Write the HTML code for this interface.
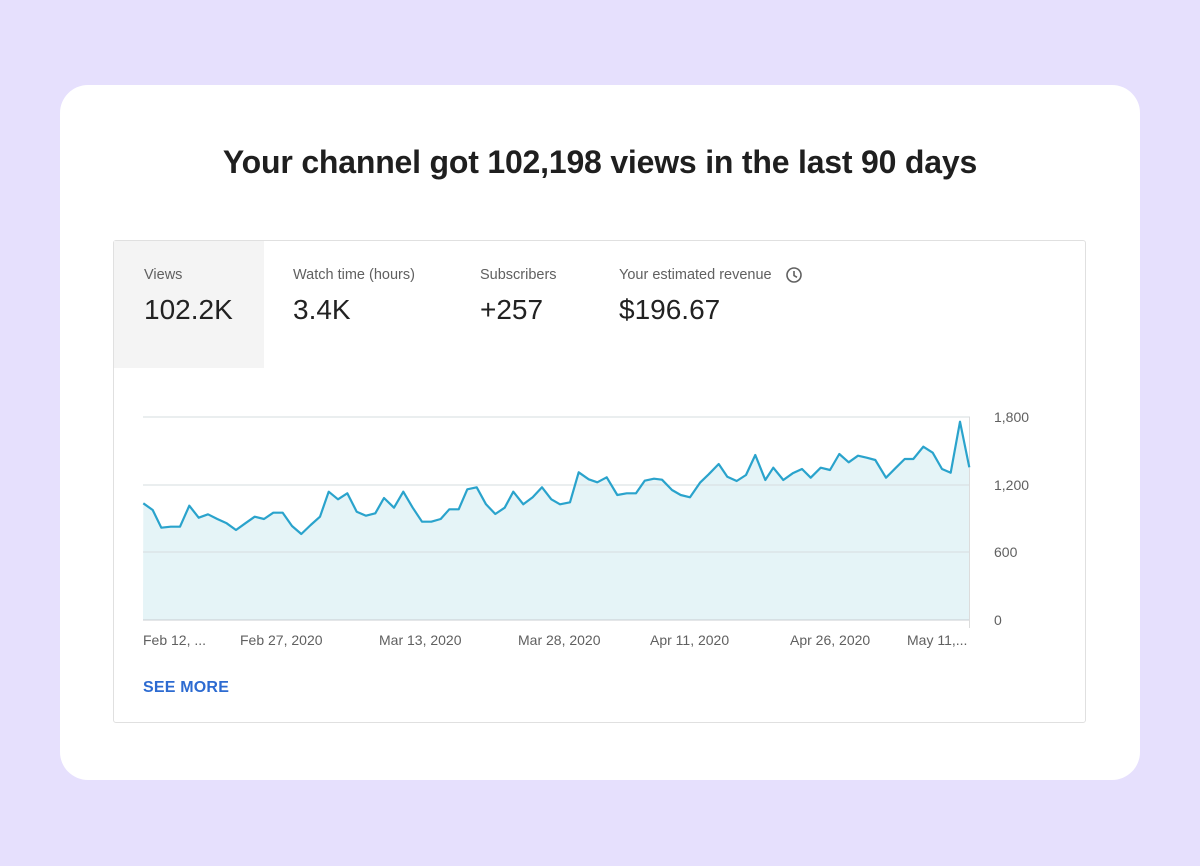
<!DOCTYPE html>
<html><head><style>
body{margin:0;width:1200px;height:866px;background:#e6e0fd;font-family:"Liberation Sans",sans-serif;position:relative;overflow:hidden}
.card{position:absolute;left:60px;top:85px;width:1080px;height:695px;background:#fff;border-radius:28px}
h1{position:absolute;left:0;width:1200px;top:144px;margin:0;text-align:center;font-size:32px;font-weight:bold;color:#1f1f1f;letter-spacing:-0.2px}
.box{position:absolute;left:113px;top:240px;width:971px;height:481px;border:1px solid #e0e0e0;border-radius:3px;background:#fff}
.tab{position:absolute;top:0;height:127px}
.lab{position:absolute;top:26px;font-size:14.5px;color:#606060;white-space:nowrap}
.val{position:absolute;top:53px;font-size:28px;color:#222;white-space:nowrap}
.ax{position:absolute;font-size:14px;color:#606060;white-space:nowrap}
</style></head><body>
<div class="card"></div>
<h1>Your channel got 102,198 views in the last 90 days</h1>
<div class="box">
<div class="tab" style="left:0;width:150px;background:#f4f4f4"></div>
<div class="lab" style="left:30px">Views</div><div class="val" style="left:30px">102.2K</div>
<div class="lab" style="left:179px">Watch time (hours)</div><div class="val" style="left:179px">3.4K</div>
<div class="lab" style="left:366px">Subscribers</div><div class="val" style="left:366px">+257</div>
<div class="lab" style="left:505px">Your estimated revenue</div><div class="val" style="left:505px">$196.67</div>
<svg style="position:absolute;left:671px;top:25px" width="18" height="18" viewBox="0 0 18 18"><circle cx="9" cy="9" r="7" fill="none" stroke="#606060" stroke-width="1.6"/><path d="M9 5v4.5l3 1.8" fill="none" stroke="#606060" stroke-width="1.6"/></svg>
</div>
<svg style="position:absolute;left:0;top:0" width="1200" height="866">
<polygon fill="#e5f4f7" points="143,620 143.3,503.3 152.7,510 161.3,527.7 170.7,526.7 180,526.7 189.3,505.7 198.7,517.7 208,514.3 217.3,519 226.7,523.3 236,530 245.3,523.3 254.7,516.7 264,519 273.3,512.7 282.7,512.7 292,526 301.3,534 310.7,525 320,516.7 328.7,491.7 338,499.3 347.3,493.3 356.7,511.7 366,515.7 375.3,513.3 384,498 394,507.7 403.3,491.7 412.7,507.7 422,521.7 431.3,521.7 440.7,519 449.3,509.3 458.7,509.3 467.3,489.3 476.7,487.3 486,504.3 495.3,514 504.7,507.7 513.3,491.7 523.3,504.3 532.7,497.3 542,487.3 551.3,499.3 560,504.3 570,502.3 578.7,472.3 588.7,479.3 597.3,482.3 606.7,477.3 617.3,495 626.7,493.3 636,493.3 644.7,480.7 654,478.7 662,479.7 672,490 680.7,495 690,497.3 700,482.7 708.7,474.3 718.7,464 727.3,476.7 736.7,481 746,475 755.3,455 765.3,480 773.3,467.7 783.3,480 792.7,473.3 802,469 810.7,477.7 820.7,467.7 830,470 839.3,454 848.7,462.3 858,455.7 866.7,457.7 875.3,460 886,477.7 895.3,468.3 904.7,459 913.3,459 923.3,446.7 932.7,452.7 942,469 950.7,472.7 960,421.7 969.3,467.3 969.3,620"/>
<g stroke="#d6dcdf" stroke-width="1"><line x1="143" y1="417" x2="970" y2="417"/><line x1="143" y1="485" x2="970" y2="485"/><line x1="143" y1="552" x2="970" y2="552"/><line x1="143" y1="620" x2="970" y2="620" stroke="#c8cdd0"/></g>
<line x1="969.5" y1="417" x2="969.5" y2="628" stroke="#dcdcdc"/>
<polyline fill="none" stroke="#2aa3cc" stroke-width="2.2" stroke-linejoin="round" points="143.3,503.3 152.7,510 161.3,527.7 170.7,526.7 180,526.7 189.3,505.7 198.7,517.7 208,514.3 217.3,519 226.7,523.3 236,530 245.3,523.3 254.7,516.7 264,519 273.3,512.7 282.7,512.7 292,526 301.3,534 310.7,525 320,516.7 328.7,491.7 338,499.3 347.3,493.3 356.7,511.7 366,515.7 375.3,513.3 384,498 394,507.7 403.3,491.7 412.7,507.7 422,521.7 431.3,521.7 440.7,519 449.3,509.3 458.7,509.3 467.3,489.3 476.7,487.3 486,504.3 495.3,514 504.7,507.7 513.3,491.7 523.3,504.3 532.7,497.3 542,487.3 551.3,499.3 560,504.3 570,502.3 578.7,472.3 588.7,479.3 597.3,482.3 606.7,477.3 617.3,495 626.7,493.3 636,493.3 644.7,480.7 654,478.7 662,479.7 672,490 680.7,495 690,497.3 700,482.7 708.7,474.3 718.7,464 727.3,476.7 736.7,481 746,475 755.3,455 765.3,480 773.3,467.7 783.3,480 792.7,473.3 802,469 810.7,477.7 820.7,467.7 830,470 839.3,454 848.7,462.3 858,455.7 866.7,457.7 875.3,460 886,477.7 895.3,468.3 904.7,459 913.3,459 923.3,446.7 932.7,452.7 942,469 950.7,472.7 960,421.7 969.3,467.3"/>
</svg>
<div class="ax" style="left:994px;top:409px">1,800</div>
<div class="ax" style="left:994px;top:477px">1,200</div>
<div class="ax" style="left:994px;top:544px">600</div>
<div class="ax" style="left:994px;top:612px">0</div>
<div class="ax" style="left:143px;top:632px">Feb 12, ...</div>
<div class="ax" style="left:240px;top:632px">Feb 27, 2020</div>
<div class="ax" style="left:379px;top:632px">Mar 13, 2020</div>
<div class="ax" style="left:518px;top:632px">Mar 28, 2020</div>
<div class="ax" style="left:650px;top:632px">Apr 11, 2020</div>
<div class="ax" style="left:790px;top:632px">Apr 26, 2020</div>
<div class="ax" style="left:907px;top:632px">May 11,...</div>
<div style="position:absolute;left:143px;top:679px;font-size:16px;font-weight:bold;color:#2d6bd1;letter-spacing:0.2px">SEE MORE</div>
</body></html>
